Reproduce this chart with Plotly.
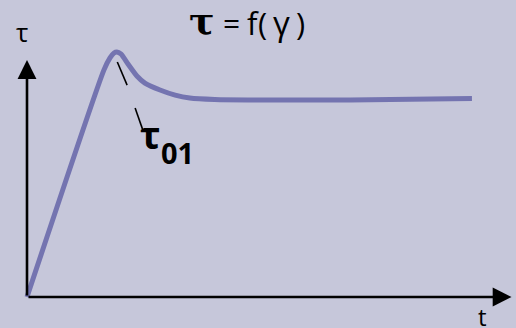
import plotly.graph_objects as go

# Curve data (t, tau)
t_vals = [0, 17.3, 18.65, 19.55, 20.2, 21.1, 22.7, 24.7, 26.5, 29.9, 33.3, 36.6, 42.2, 52.4, 72.6, 100]
tau_vals = [0, 92.7, 97.6, 99.6, 100, 99.2, 95.1, 90.2, 87.3, 84.5, 82.4, 81.2, 80.6, 80.4, 80.4, 81.0]

# pointer to tau01 (two short dashes)
ptr1_t = [20.3, 22.5]
ptr1_tau = [95.9, 86.5]
ptr2_t = [24.3, 26.1]
ptr2_tau = [77.1, 67.8]

BG = "#C6C7DA"
LINE = "#7474B0"

fig = go.Figure()
fig.add_trace(go.Scatter(x=t_vals, y=tau_vals, mode="lines",
                         line=dict(color=LINE, width=5, shape="spline", smoothing=0.6),
                         hoverinfo="skip"))
for xs, ys in [(ptr1_t, ptr1_tau), (ptr2_t, ptr2_tau)]:
    fig.add_trace(go.Scatter(x=xs, y=ys, mode="lines", line=dict(color="black", width=1.6),
                             hoverinfo="skip"))

annos = []
# axes arrows
annos.append(dict(x=0, y=96.7, ax=0, ay=0, xref="x", yref="y", axref="x", ayref="y",
                  showarrow=True, arrowhead=2, arrowsize=1.45, arrowwidth=2.6, arrowcolor="black", text=""))
annos.append(dict(x=108.9, y=0, ax=0, ay=0, xref="x", yref="y", axref="x", ayref="y",
                  showarrow=True, arrowhead=2, arrowsize=1.45, arrowwidth=2.6, arrowcolor="black", text=""))
font = "Open Sans"
labels = [
    # (text, center x px, center y px, size, bold, family)
    ("τ", 22, 32, 26, False, font),
    ("τ", 202, 21, 38, True, "DejaVu Serif"),
    ("=", 231, 23, 30, False, font),
    ("f", 253, 23, 31, False, font),
    ("(", 262, 23, 31, False, font),
    ("γ", 281, 23, 33, False, font),
    (")", 300, 23, 31, False, font),
    ("τ", 150, 134, 38, True, font),
    ("01", 177, 152, 29, True, font),
    ("t", 482, 316, 24, False, font),
]
for txt, px, py, sz, bold, fam in labels:
    annos.append(dict(x=px / 516, y=1 - py / 328, xref="paper", yref="paper",
                      xanchor="center", yanchor="middle", showarrow=False,
                      text=f"<b>{txt}</b>" if bold else txt,
                      font=dict(family=fam, size=sz, color="black")))

fig.update_layout(
    width=516, height=328,
    margin=dict(l=0, r=0, t=0, b=0),
    paper_bgcolor=BG, plot_bgcolor=BG,
    showlegend=False,
    xaxis=dict(range=[-27 / 4.45, 109.9], visible=False, domain=[0, 1]),
    yaxis=dict(range=[-31 / 2.45, 297 / 2.45], visible=False, domain=[0, 1]),
    annotations=annos,
)
fig.write_html("out.html", config={"displayModeBar": False},
               post_script="document.body.style.margin='0';document.body.style.padding='0';document.body.style.overflow='hidden';")
